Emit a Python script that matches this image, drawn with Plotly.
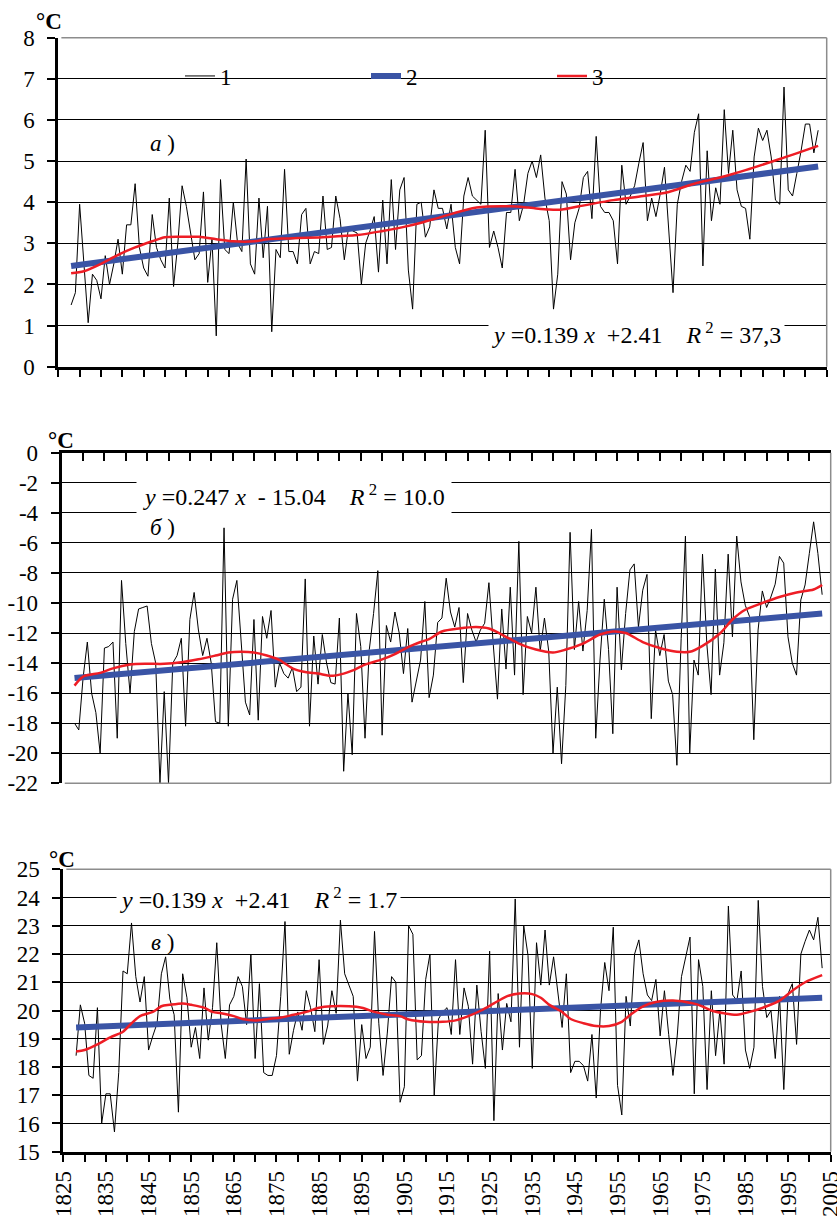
import plotly.graph_objects as go

# ---------------- data ----------------
years = list(range(1828, 2004))

# panel а) annual values (°C)
temp_a = [1.5, 1.8, 3.95, 2.5, 1.07, 2.25, 2.1, 1.65, 2.7, 2.0,
          2.5, 3.1, 2.25, 3.45, 3.45, 4.45, 2.9, 2.4, 2.2, 3.7,
          2.9, 2.6, 2.4, 4.1, 1.95, 3.0, 4.4, 3.9, 3.3, 2.6,
          2.75, 4.25, 2.05, 3.1, 0.75, 4.55, 2.85, 2.75, 4.0, 3.0,
          2.8, 5.05, 2.5, 2.25, 4.1, 2.65, 3.9, 0.85, 2.85, 2.65,
          4.8, 2.8, 2.8, 2.5, 3.7, 3.85, 2.5, 2.8, 2.75, 4.15,
          2.85, 2.9, 4.15, 3.6, 2.6, 3.4, 3.3, 3.25, 2.0, 3.0,
          3.3, 3.65, 2.3, 4.05, 2.5, 4.55, 2.85, 4.3, 4.6, 2.35,
          1.4, 3.95, 4.0, 3.15, 3.4, 4.3, 3.85, 3.85, 3.35, 3.95,
          2.9, 2.5, 4.15, 4.6, 4.15, 4.05, 3.95, 5.75, 2.9, 3.3,
          2.9, 2.4, 3.75, 3.75, 4.8, 3.55, 3.95, 4.7, 5.0, 4.6,
          5.15, 4.1, 3.55, 1.4, 2.25, 4.5, 4.2, 2.6, 3.5, 3.85,
          4.6, 4.75, 3.6, 5.6, 3.9, 3.75, 3.75, 3.55, 2.5, 4.9,
          3.95, 4.15, 4.4, 4.95, 5.45, 3.55, 4.1, 3.65, 4.2, 4.85,
          3.3, 1.8, 3.95, 4.5, 4.9, 4.75, 5.7, 6.15, 2.45, 5.25,
          3.55, 4.35, 3.95, 6.25, 4.7, 5.75, 4.3, 3.9, 3.85, 3.1,
          5.1, 5.8, 5.5, 5.75, 5.1, 4.05, 3.95, 6.8, 4.3, 4.15,
          4.7, 5.25, 5.9, 5.9, 5.2, 5.75]

# panel б) annual values (°C)
temp_b = [-18.0, -18.45, -15.0, -12.6, -16.0, -17.3, -20.0, -13.0, -12.9, -12.6,
          -19.0, -8.5, -12.7, -16.0, -11.9, -10.4, -10.3, -10.2, -12.7, -14.0,
          -22.0, -15.9, -22.0, -14.0, -13.5, -12.35, -18.2, -11.1, -9.3, -11.8,
          -13.5, -12.35, -14.0, -17.9, -18.0, -5.0, -18.2, -9.75, -8.5, -12.8,
          -16.6, -17.45, -11.1, -17.8, -10.9, -12.35, -10.5, -15.6, -14.0, -14.7,
          -15.0, -14.3, -15.9, -15.6, -8.4, -18.2, -12.2, -15.4, -12.1, -14.0,
          -15.3, -15.4, -11.0, -21.2, -16.0, -20.1, -10.7, -12.9, -19.0, -13.1,
          -10.7, -7.85, -18.8, -11.5, -12.6, -10.6, -12.0, -14.7, -11.7, -16.6,
          -15.3, -13.8, -9.9, -16.3, -14.8, -11.3, -11.0, -8.35, -10.6, -11.6,
          -10.3, -15.3, -10.7, -11.8, -12.6, -11.8, -11.35, -8.65, -12.7, -16.4,
          -10.4, -14.4, -8.95, -14.8, -5.9, -16.1, -10.9, -12.0, -8.95, -13.2,
          -11.0, -13.2, -20.0, -15.6, -20.7, -15.5, -5.3, -13.1, -9.9, -13.2,
          -10.5, -5.1, -19.0, -13.8, -9.75, -13.1, -18.7, -8.95, -14.45, -10.7,
          -7.8, -7.4, -11.6, -9.15, -8.1, -17.7, -11.8, -13.5, -12.1, -15.2,
          -16.1, -20.8, -12.35, -5.55, -20.0, -13.8, -14.8, -6.75, -12.7, -16.1,
          -7.75, -14.8, -12.65, -6.75, -12.25, -5.55, -8.6, -10.15, -10.9, -19.1,
          -11.8, -9.2, -10.3, -9.6, -8.75, -6.9, -7.35, -12.25, -14.0, -14.8,
          -9.8, -8.8, -6.7, -4.6, -6.7, -9.45]

# panel в) annual values (°C)
temp_c = [18.4, 20.2, 19.55, 17.7, 17.6, 20.1, 16.0, 17.05, 17.05, 15.7,
          17.8, 21.4, 21.3, 23.1, 21.2, 20.3, 21.2, 18.6, 19.1, 19.55,
          21.3, 21.9, 20.4, 19.85, 16.4, 21.3, 20.45, 18.7, 19.4, 18.3,
          20.8, 18.95, 20.1, 22.4, 19.55, 18.3, 20.2, 20.5, 21.2, 20.85,
          19.5, 22.0, 18.3, 20.95, 17.8, 17.7, 17.7, 18.4, 20.5, 23.15,
          18.45, 19.3, 19.95, 19.3, 20.7, 20.1, 19.25, 21.8, 18.8, 19.45,
          20.7, 19.9, 23.2, 21.3, 20.9, 20.5, 17.5, 19.5, 18.3, 18.7,
          22.8, 19.55, 17.7, 19.2, 21.2, 21.0, 16.75, 17.3, 23.0, 22.7,
          18.25, 18.4, 21.1, 22.0, 17.0, 19.7, 19.95, 20.1, 19.15, 21.8,
          19.15, 20.8, 20.15, 18.1, 20.9, 19.25, 17.95, 22.1, 16.1, 20.6,
          18.6, 20.25, 19.6, 23.95, 18.7, 23.0, 21.95, 17.95, 22.4, 20.9,
          22.85, 20.9, 21.9, 20.6, 19.4, 21.3, 17.8, 18.2, 18.2, 18.05,
          17.5, 19.15, 16.9, 20.0, 21.7, 20.7, 22.95, 17.35, 16.3, 20.5,
          19.45, 22.0, 22.5, 21.3, 20.55, 20.35, 21.1, 19.1, 20.7, 19.15,
          17.7, 19.1, 21.2, 21.9, 22.6, 17.05, 21.8, 20.85, 17.2, 20.7,
          18.4, 20.0, 18.1, 23.7, 20.55, 20.35, 21.4, 18.6, 17.95, 18.7,
          23.9, 20.85, 19.75, 20.0, 18.3, 20.5, 17.2, 20.6, 20.95, 18.8,
          22.0, 22.45, 22.85, 22.5, 23.3, 21.5]

# linear trends (series 2): end points
trend_years = [1828, 2003]
trend_a = [2.45, 4.87]
trend_b = [-15.0, -10.7]
trend_c = [19.4, 20.45]

# smoothed curves (series 3)
smooth_a_years = [1828, 1831, 1835, 1839, 1843, 1847, 1850, 1855, 1858, 1862, 1866,
                  1871, 1874, 1879, 1887, 1895, 1901, 1906, 1910, 1915, 1923, 1931,
                  1935, 1940, 1943, 1947, 1955, 1962, 1968, 1974, 1980, 1986, 1994, 2003]
smooth_a = [2.27, 2.32, 2.5, 2.72, 2.9, 3.05, 3.15, 3.16, 3.16, 3.1, 3.05,
            3.05, 3.1, 3.12, 3.15, 3.2, 3.3, 3.4, 3.5, 3.65, 3.87, 3.9,
            3.87, 3.82, 3.82, 3.9, 4.05, 4.15, 4.25, 4.45, 4.6, 4.78, 5.05, 5.37]

smooth_b_years = [1828, 1830, 1834, 1837, 1841, 1845, 1849, 1853, 1857, 1861, 1864,
                  1867, 1870, 1873, 1876, 1879, 1882, 1885, 1888, 1891, 1893, 1896,
                  1900, 1903, 1906, 1909, 1911, 1914, 1918, 1922, 1925, 1929, 1932,
                  1936, 1940, 1943, 1947, 1951, 1954, 1957, 1961, 1965, 1969, 1972,
                  1975, 1979, 1982, 1985, 1989, 1993, 1997, 2001, 2003]
smooth_b = [-15.5, -14.9, -14.65, -14.35, -14.1, -14.05, -14.05, -13.95, -13.75, -13.5, -13.3,
            -13.25, -13.3, -13.5, -13.8, -14.35, -14.6, -14.7, -14.85, -14.7, -14.5, -14.1,
            -13.75, -13.4, -12.95, -12.6, -12.4, -11.9, -11.7, -11.6, -11.7, -12.25, -12.7,
            -13.1, -13.3, -13.1, -12.7, -12.1, -11.9, -12.0, -12.6, -13.0, -13.25, -13.25,
            -12.85, -12.05, -11.1, -10.45, -10.0, -9.6, -9.3, -9.1, -8.8]

smooth_c_years = [1828, 1830, 1833, 1836, 1839, 1841, 1843, 1846, 1848, 1850, 1853,
                  1855, 1858, 1860, 1862, 1865, 1867, 1870, 1873, 1876, 1879, 1882,
                  1885, 1888, 1892, 1895, 1898, 1901, 1904, 1906, 1910, 1914, 1917,
                  1920, 1923, 1926, 1929, 1932, 1935, 1937, 1939, 1942, 1944, 1947,
                  1950, 1953, 1956, 1958, 1961, 1964, 1968, 1971, 1974, 1977, 1980,
                  1983, 1986, 1990, 1993, 1996, 1999, 2003]
smooth_c = [18.55, 18.6, 18.8, 19.05, 19.25, 19.55, 19.8, 19.95, 20.15, 20.2, 20.25,
            20.2, 20.1, 19.95, 19.9, 19.8, 19.7, 19.65, 19.7, 19.75, 19.85, 19.95,
            20.1, 20.15, 20.15, 20.1, 19.95, 19.85, 19.8, 19.68, 19.6, 19.6, 19.65,
            19.8, 20.0, 20.25, 20.5, 20.6, 20.58, 20.45, 20.2, 19.95, 19.7, 19.55,
            19.45, 19.45, 19.6, 19.85, 20.15, 20.3, 20.35, 20.3, 20.2, 20.0, 19.9,
            19.85, 19.95, 20.15, 20.35, 20.7, 21.0, 21.25]

legend_names = ["1", "2", "3"]
panel_labels = ["а", "б", "в"]
NB = "\u00a0"
equations = [f"<i>y</i> =0.139 <i>x</i>{NB}{NB}+2.41{NB}{NB}{NB}{NB}<i>R</i><sup>{NB}2</sup>{NB}={NB}37,3",
             f"<i>y</i> =0.247 <i>x</i>{NB}{NB}-{NB}15.04{NB}{NB}{NB}{NB}<i>R</i><sup>{NB}2</sup>{NB}={NB}10.0",
             f"<i>y</i> =0.139 <i>x</i>{NB}{NB}+2.41{NB}{NB}{NB}{NB}<i>R</i><sup>{NB}2</sup>{NB}={NB}1.7"]

ytick_a = [0, 1, 2, 3, 4, 5, 6, 7, 8]
ytick_b_vals = [0, -2, -4, -6, -8, -10, -12, -14, -16, -18, -20, -22]
ytick_b_text = ["0", "-2", "-4", "-6", "-8", "-10", "-12", "-14", "-16", "-18", "-20", "-22"]
ytick_c = [15, 16, 17, 18, 19, 20, 21, 22, 23, 24, 25]

# ---------------- layout helpers ----------------
W, H = 837, 1218
FONT = "Times New Roman, Liberation Serif, DejaVu Serif, serif"
FS = 23
BLACK = "#000000"
BLUE = "#3a54a5"
RED = "#ee1d25"
GRAY = "#8c8c8c"


def px(x):
    return x / W


def py(y):
    return 1 - y / H


panels = [
    dict(x0=58.3, x1=826.7, ytop=37.7, ybot=366.7, yr=[0, 8]),
    dict(x0=61.7, x1=830.7, ytop=452.7, ybot=783.3, yr=[-22, 0]),
    dict(x0=63.3, x1=830.7, ytop=869.3, ybot=1151.7, yr=[15, 25]),
]

series = [
    (temp_a, trend_a, smooth_a_years, smooth_a),
    (temp_b, trend_b, smooth_b_years, smooth_b),
    (temp_c, trend_c, smooth_c_years, smooth_c),
]

fig = go.Figure()
for i, (temp, trend, sy, sv) in enumerate(series):
    xa = "x" if i == 0 else f"x{i+1}"
    ya = "y" if i == 0 else f"y{i+1}"
    show = i == 0
    fig.add_trace(go.Scatter(x=years, y=temp, mode="lines", name=legend_names[0],
                             line=dict(color=BLACK, width=1), xaxis=xa, yaxis=ya,
                             showlegend=show))
    fig.add_trace(go.Scatter(x=trend_years, y=trend, mode="lines", name=legend_names[1],
                             line=dict(color=BLUE, width=6), xaxis=xa, yaxis=ya,
                             showlegend=show))
    fig.add_trace(go.Scatter(x=sy, y=sv, mode="lines", name=legend_names[2],
                             line=dict(color=RED, width=2.5, shape="spline", smoothing=0.8),
                             xaxis=xa, yaxis=ya, showlegend=show))

tickfont = dict(family=FONT, size=FS, color=BLACK)
layout = dict(
    width=W, height=H, margin=dict(l=0, r=0, t=0, b=0),
    paper_bgcolor="white", plot_bgcolor="white", template="none",
    font=dict(family=FONT, size=FS, color=BLACK),
    showlegend=True,
    legend=dict(orientation="h", x=px(180), y=py(76), xanchor="left", yanchor="middle",
                font=dict(family=FONT, size=FS, color=BLACK), entrywidth=141,
                entrywidthmode="pixels", bgcolor="rgba(0,0,0,0)", borderwidth=0,
                traceorder="normal"),
)

for i, p in enumerate(panels):
    xk = "xaxis" if i == 0 else f"xaxis{i+1}"
    yk = "yaxis" if i == 0 else f"yaxis{i+1}"
    ya = "y" if i == 0 else f"y{i+1}"
    xa = "x" if i == 0 else f"x{i+1}"
    xax = dict(domain=[px(p["x0"]), px(p["x1"])], range=[1825, 2005], anchor=ya,
               showgrid=False, zeroline=False, showline=True, linecolor=BLACK, linewidth=3,
               tickcolor=BLACK, tickwidth=2, ticklen=7, automargin=False, fixedrange=True)
    if i == 0:
        xax.update(side="bottom", ticks="outside", tick0=1825, dtick=5, showticklabels=False)
    elif i == 1:
        xax.update(side="top", ticks="inside", tick0=1825, dtick=5, showticklabels=False, ticklen=8)
    else:
        xax.update(side="bottom", ticks="outside", tick0=1825, dtick=10, tickangle=-90,
                   showticklabels=True, tickfont=tickfont, ticklabelstandoff=0,
                   ticklabeloverflow="allow",
                   minor=dict(dtick=5, tick0=1825, ticks="outside", ticklen=7,
                              tickwidth=2, tickcolor=BLACK, showgrid=False))
    yax = dict(domain=[py(p["ybot"]), py(p["ytop"])], range=p["yr"], anchor=xa,
               showgrid=True, gridcolor=BLACK, gridwidth=1, zeroline=False,
               showline=True, linecolor=BLACK, linewidth=3, ticks="outside",
               tickcolor=BLACK, tickwidth=2, ticklen=8, tickfont=tickfont,
               ticklabelstandoff=8, automargin=False, fixedrange=True)
    if i == 0:
        yax.update(tickvals=ytick_a)
    elif i == 1:
        yax.update(tickvals=ytick_b_vals, ticktext=ytick_b_text)
    else:
        yax.update(tickvals=ytick_c)
    layout[xk] = xax
    layout[yk] = yax

fig.update_layout(**layout)

# gray plot-area border (right edge + top or bottom edge)
for i, p in enumerate(panels):
    xa = "x" if i == 0 else f"x{i+1}"
    ya = "y" if i == 0 else f"y{i+1}"
    line = dict(color=GRAY, width=1.5)
    fig.add_shape(type="line", xref=f"{xa} domain", yref=f"{ya} domain",
                  x0=1, x1=1, y0=0, y1=1, line=line, layer="above")
    edge = 0 if i == 1 else 1
    fig.add_shape(type="line", xref=f"{xa} domain", yref=f"{ya} domain",
                  x0=0.004, x1=1, y0=edge, y1=edge, line=line, layer="above")

# °C units
unit_pos = [(49, 22), (61, 440), (62, 859)]
for (ux, uy) in unit_pos:
    fig.add_annotation(text="<b>°C</b>", x=px(ux), y=py(uy), xref="paper", yref="paper",
                       showarrow=False, font=dict(family=FONT, size=FS, color=BLACK),
                       xanchor="center", yanchor="middle")

# panel letters
label_pos = [(162, 144), (162, 527), (162, 942)]
for lbl, (lx, ly) in zip(panel_labels, label_pos):
    fig.add_annotation(text=f"<i>{lbl}</i> )", x=px(lx), y=py(ly), xref="paper", yref="paper",
                       showarrow=False, font=dict(family=FONT, size=FS, color=BLACK),
                       xanchor="center", yanchor="middle")

# regression equations with white background interrupting gridlines
eq_pos = [(636, 333, 3), (294, 495, 6), (258, 898, 3)]
for eq, (ex, ey, pad) in zip(equations, eq_pos):
    fig.add_annotation(text=eq, x=px(ex), y=py(ey), xref="paper", yref="paper",
                       showarrow=False, font=dict(family=FONT, size=24, color=BLACK),
                       xanchor="center", yanchor="middle", bgcolor="white", borderpad=pad)

fig.write_html("out.html", config={"displayModeBar": False},
               post_script="document.body.style.margin='0px';")
